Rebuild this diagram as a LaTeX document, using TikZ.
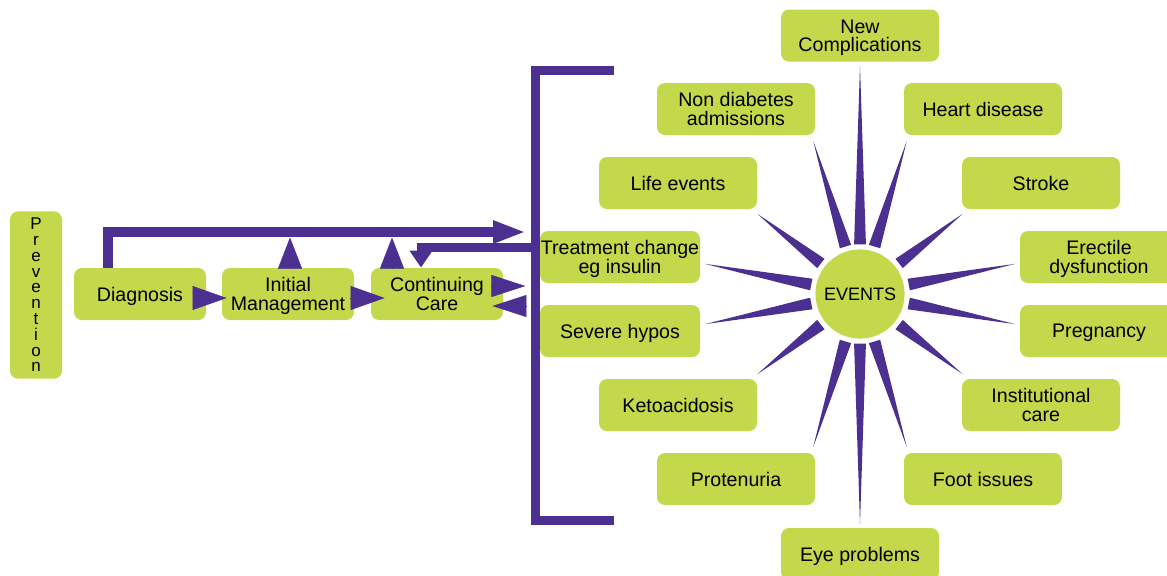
\documentclass[tikz,border=0pt]{standalone}
\usepackage{fontspec}
\setmainfont{Liberation Sans}
\usetikzlibrary{arrows.meta,calc}
\definecolor{leafgreen}{RGB}{195,216,74}
\definecolor{eventpurple}{RGB}{76,48,145}

\begin{document}
\begin{tikzpicture}[
    x = 0.5pt, y = -0.5pt,
    box/.style     = {rectangle, rounded corners=4pt, fill=leafgreen,
      minimum width=79pt, minimum height=26pt, inner xsep=0pt,
      text depth=-0.3pt, align=center, font=\fontsize{9.8}{9.2}\selectfont},
    events/.style  = {circle, fill=leafgreen, minimum size=42pt,
      font=\fontsize{9}{9}\selectfont},
    tri/.style     = {draw=eventpurple, line width=0.2pt,
      -{Triangle[length=17pt,width=12pt]}},
    uptri/.style   = {draw=eventpurple, line width=0.2pt,
      -{Triangle[length=15.5pt,width=12pt]}},
    flow/.style    = {draw=eventpurple, line width=5pt},
    bracket/.style = {draw=eventpurple, line width=4.5pt}
  ]
  \useasboundingbox (0,0) rectangle (1167,575);

  % care pathway
  \node [box, minimum width=26pt, minimum height=82pt, text depth=0pt,
    font=\fontsize{8.5}{7.9}\selectfont] (prev) at (36,295)
    {P\\r\\e\\v\\e\\n\\t\\i\\o\\n};
  \node [box, minimum width=66pt] (diag) at (140,294) {Diagnosis};
  \node [box, minimum width=66pt] (init) at (288,294) {Initial\\Management};
  \node [box, minimum width=66pt] (cont) at (437,294) {Continuing\\Care};

  \coordinate (topline) at (300,237.5);
  \coordinate (tin) at (526,232);
  \coordinate (ret) at (535,247);
  \coordinate (brtop) at (535,70.5);
  \coordinate (brbot) at (535,520.5);

  \draw [bracket] (614,70.5) -- (brtop) -- (brbot) -- (614,520.5);
  \draw [flow, -{Triangle[length=16.5pt,width=10.5pt]}]
    ([xshift=-16pt]diag.north) |- (tin);
  \draw [flow, line width=4.5pt, -{Triangle[length=8.5pt,width=11pt]}]
    (ret) -| ([xshift=-8pt]cont.north);

  \draw [tri] ([xshift=-6.5pt,yshift=-2pt]diag.east) -- ([xshift=2.5pt,yshift=-2pt]init.west);
  \draw [tri] ([xshift=-2pt,yshift=-2pt]init.east) -- ([xshift=7pt,yshift=-2pt]cont.west);
  \draw [uptri] ([xshift=1pt]init.north) -- ([xshift=1pt]init.north |- topline);
  \draw [uptri] ([xshift=-22.5pt]cont.north) -- ([xshift=-22.5pt]cont.north |- topline);
  \draw [tri, -{Triangle[length=17pt,width=11pt]}]
    ([xshift=-6pt,yshift=4pt]cont.east) -- ([xshift=11pt,yshift=4pt]cont.east);
  \draw [tri, -{Triangle[length=17pt,width=11pt]}]
    ([xshift=11.5pt,yshift=-6pt]cont.east) -- ([xshift=-5.5pt,yshift=-6pt]cont.east);

  % events
  \node [events] (ev) at (860,294) {EVENTS};
  \foreach \ang/\len in {-90/228, -107/160, -73/160, -142/130, -38/130,
      -169/158, -11/158, 169/158, 11/158, 142/130, 38/130,
      107/160, 73/160, 90/230}
    \fill [eventpurple] ($(ev.center)+({\ang-6.8}:50)$) -- ($(ev.center)+(\ang:\len)$)
      -- ($(ev.center)+({\ang+6.8}:50)$) -- cycle;

  \node [box] (nc)  at (860,35.5) {New\\Complications};
  \node [box] (nda) at (736,109)  {Non diabetes\\admissions};
  \node [box] (hd)  at (983,109)  {Heart disease};
  \node [box] (le)  at (678,183)  {Life events};
  \node [box] (st)  at (1041,183) {Stroke};
  \node [box, minimum width=80pt] (tc) at (620,257) {Treatment change\\eg insulin};
  \node [box] (ed)  at (1099,257) {Erectile\\dysfunction};
  \node [box, minimum width=80pt] (sh) at (620,331) {Severe hypos};
  \node [box] (pr)  at (1099,331) {Pregnancy};
  \node [box] (ka)  at (678,405)  {Ketoacidosis};
  \node [box] (ic)  at (1041,405) {Institutional\\care};
  \node [box] (pt)  at (736,479)  {Protenuria};
  \node [box] (fi)  at (983,479)  {Foot issues};
  \node [box] (ep)  at (860,554)  {Eye problems};
\end{tikzpicture}
\end{document}
